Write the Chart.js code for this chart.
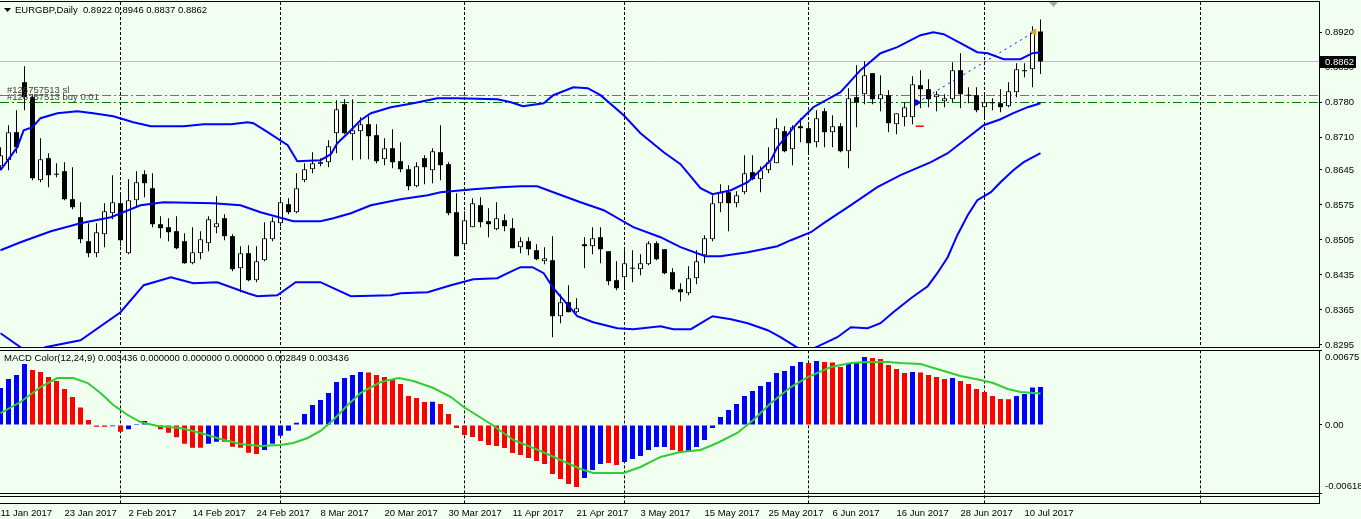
<!DOCTYPE html>
<html>
<head>
<meta charset="utf-8">
<script src="https://cdn.jsdelivr.net/npm/chart.js@4.4.1/dist/chart.umd.min.js"></script>
<style>
  html, body { margin: 0; padding: 0; background: #f0fff0; }
  #wrap { position: relative; width: 1361px; height: 519px; overflow: hidden; background: #f0fff0; }
  canvas { position: absolute; left: 0; }
  #price-chart { top: 0; }
  #macd-chart { top: 348px; }
</style>
</head>
<body>
<div id="wrap">
  <canvas id="price-chart" width="1361" height="352"></canvas>
  <canvas id="macd-chart" width="1361" height="171"></canvas>
</div>
<script>
// EURGBP daily, 11 Jan 2017 .. 12 Jul 2017 (one entry per bar)
const opens = [0.86526,0.86646,0.87206,0.88206,0.87906,0.86246,0.86686,0.86376,0.86426,0.85866,0.85506,0.85026,0.84786,0.85166,0.85586,0.85786,0.84786,0.85846,0.86366,0.86086,
  0.85366,0.85306,0.85226,0.85026,0.84586,0.84786,0.84986,0.85306,0.85486,0.85126,0.84486,0.84786,0.84246,0.84646,0.85066,0.85386,0.85766,0.85606,0.86246,0.86466,
  0.86606,0.86606,0.87186,0.87766,0.87166,0.87226,0.87366,0.87146,0.86666,0.86886,0.86626,0.86466,0.86126,0.86686,0.86446,0.86806,0.86566,0.85606,0.84966,0.85306,
  0.85746,0.85426,0.85266,0.85446,0.85286,0.84906,0.85026,0.84846,0.84626,0.84646,0.83526,0.83806,0.83606,0.84966,0.84926,0.85106,0.84826,0.84246,0.84306,0.84486,
  0.84466,0.84566,0.84986,0.84866,0.84406,0.84066,0.83986,0.84286,0.84746,0.85066,0.85786,0.86006,0.85786,0.86006,0.86406,0.86266,0.86446,0.86586,0.87226,0.86866,
  0.87326,0.87286,0.87006,0.87626,0.87206,0.87326,0.86826,0.87906,0.87966,0.88386,0.87866,0.87946,0.87366,0.87506,0.87506,0.88146,0.88066,0.87906,0.87826,0.87866,
  0.88446,0.87946,0.87946,0.87706,0.87806,0.87786,0.87726,0.88006,0.88446,0.88466,0.8922];
const highs = [0.86906,0.87346,0.87646,0.88526,0.87946,0.87086,0.86786,0.86586,0.86606,0.86506,0.85806,0.85386,0.85386,0.85786,0.86346,0.85986,0.86266,0.86426,0.86446,0.86386,
  0.85526,0.85486,0.85526,0.85186,0.85306,0.85226,0.85526,0.85926,0.85566,0.85166,0.84926,0.84946,0.84926,0.85406,0.85506,0.85886,0.85886,0.86386,0.86586,0.86806,
  0.86686,0.87046,0.87846,0.87866,0.87866,0.87506,0.87526,0.87366,0.87086,0.87266,0.87006,0.86546,0.86606,0.86746,0.86886,0.87346,0.86606,0.85986,0.85626,0.85886,
  0.85906,0.85686,0.85806,0.85566,0.85486,0.85106,0.85106,0.84966,0.84906,0.85126,0.83966,0.84146,0.83886,0.85106,0.85306,0.85306,0.84826,0.84626,0.84846,0.84846,
  0.84766,0.85026,0.85026,0.84866,0.84486,0.84186,0.84526,0.84846,0.85146,0.85946,0.86166,0.86146,0.86026,0.86746,0.86746,0.86526,0.86906,0.87486,0.87326,0.87346,
  0.87486,0.87346,0.87646,0.87686,0.87546,0.87386,0.88086,0.88546,0.88626,0.88386,0.88346,0.88046,0.87586,0.87806,0.88326,0.88446,0.88266,0.88026,0.87966,0.88606,
  0.88786,0.88106,0.88106,0.87966,0.87886,0.88066,0.88206,0.88586,0.88586,0.89326,0.8946];
const lows = [0.86446,0.86446,0.86786,0.87646,0.86246,0.86206,0.86106,0.86306,0.85846,0.85666,0.84986,0.84706,0.84706,0.84906,0.85466,0.84926,0.84766,0.85706,0.85906,0.85306,
  0.85086,0.85026,0.84866,0.84576,0.84566,0.84666,0.84826,0.85186,0.85046,0.84426,0.84006,0.84226,0.84206,0.84626,0.85026,0.85326,0.85566,0.85586,0.86206,0.86386,
  0.86526,0.86506,0.86786,0.87166,0.86646,0.86666,0.86666,0.86586,0.86546,0.86486,0.86406,0.86046,0.86106,0.86166,0.86186,0.86246,0.85546,0.84726,0.84866,0.85306,
  0.85306,0.85106,0.85246,0.85226,0.84886,0.84786,0.84746,0.84646,0.84566,0.83106,0.83386,0.83606,0.83586,0.84486,0.84766,0.84586,0.84146,0.84046,0.84106,0.84206,
  0.84346,0.84546,0.84646,0.84366,0.84046,0.83826,0.83946,0.84166,0.84586,0.85026,0.85606,0.85226,0.85706,0.85966,0.86246,0.86006,0.86386,0.86586,0.86806,0.86546,
  0.87006,0.86786,0.86906,0.86906,0.86906,0.86806,0.86486,0.87306,0.87766,0.87766,0.87626,0.87206,0.87166,0.87326,0.87366,0.87686,0.87706,0.87626,0.87706,0.87806,
  0.87686,0.87786,0.87606,0.87506,0.87646,0.87606,0.87706,0.87906,0.88306,0.88106,0.8837];
const closes = [0.86746,0.87206,0.86906,0.87906,0.86286,0.86666,0.86346,0.86356,0.85866,0.85706,0.85066,0.84786,0.85206,0.85626,0.85806,0.85046,0.85846,0.86206,0.86186,0.85366,
  0.85286,0.85206,0.84886,0.84586,0.84806,0.85066,0.85466,0.85386,0.85126,0.84466,0.84786,0.84246,0.84626,0.85086,0.85426,0.85806,0.85606,0.86086,0.86466,0.86586,
  0.86576,0.86926,0.87666,0.87186,0.87246,0.87366,0.87126,0.86626,0.86886,0.86606,0.86466,0.86126,0.86526,0.86506,0.86826,0.86546,0.85586,0.84726,0.85446,0.85786,
  0.85406,0.85366,0.85486,0.85326,0.84886,0.85026,0.84866,0.84666,0.84686,0.83526,0.83806,0.83606,0.83686,0.84926,0.85086,0.84866,0.84226,0.84086,0.84586,0.84476,
  0.84586,0.84986,0.84666,0.84386,0.84066,0.84006,0.84286,0.84626,0.85086,0.85786,0.86006,0.85786,0.85946,0.86386,0.86266,0.86446,0.86606,0.87286,0.86826,0.87306,
  0.87286,0.86986,0.87486,0.87206,0.87326,0.86826,0.87886,0.87806,0.88346,0.87866,0.87966,0.87386,0.87586,0.87706,0.88166,0.88066,0.87866,0.87966,0.87886,0.88446,
  0.87966,0.87936,0.87646,0.87806,0.87786,0.87706,0.88026,0.88466,0.88426,0.89206,0.8862];

// Bollinger bands, read as [bar, price]
const upperBand = [[0,0.86446],[2.1,0.86906],[2.9,0.87246],[4,0.87306],[5,0.87486],[7.1,0.87586],[9.6,0.87626],[11.6,0.87586],[14.1,0.87526],[16.6,0.87406],
  [18.8,0.87326],[22.9,0.87326],[25.4,0.87366],[28.8,0.87366],[30.9,0.87406],[31.6,0.87386],[33.4,0.87206],[35.9,0.86946],[37.1,0.86626],[40,0.86646],
  [41.3,0.86766],[42.1,0.86986],[43.8,0.87246],[45,0.87446],[46.3,0.87586],[48.8,0.87706],[51.6,0.87786],[54.6,0.87886],[57.1,0.87886],[62.1,0.87866],
  [63.8,0.87806],[65.3,0.87726],[67.9,0.87786],[69.1,0.87946],[71.6,0.88106],[73.4,0.88086],[75,0.87946],[77.9,0.87546],[80,0.87186],[82.9,0.86806],
  [85,0.86566],[87.5,0.86086],[89,0.85966],[91.3,0.86046],[93.4,0.86206],[96.3,0.86646],[97.1,0.86906],[99.6,0.87386],[101.6,0.87706],[105,0.88006],
  [107.5,0.88446],[110,0.88786],[112.1,0.88906],[115,0.89146],[116.6,0.89206],[117.9,0.89166],[120,0.88986],[122.1,0.88806],[123.4,0.88786],[125.4,0.88666],
  [127.5,0.88666],[129,0.88786],[130,0.88806]];
const middleBand = [[0,0.84846],[2.5,0.85006],[6.3,0.85226],[10,0.85386],[13.8,0.85506],[17.5,0.85746],[20.4,0.85806],[26.6,0.85786],[30,0.85746],[32.5,0.85606],
  [36.6,0.85426],[40,0.85426],[41.6,0.85486],[43.8,0.85586],[46.3,0.85746],[50,0.85866],[53.4,0.85946],[55,0.86006],[59.1,0.86066],[62.5,0.86106],
  [65,0.86126],[67.1,0.86126],[69.1,0.86006],[72.5,0.85806],[75.4,0.85646],[79.1,0.85306],[82.5,0.85106],[85,0.84906],[88.1,0.84726],[90,0.84726],
  [93.4,0.84806],[97.1,0.84926],[98.8,0.85046],[101.3,0.85206],[102.9,0.85386],[106.3,0.85746],[109.6,0.86106],[112.5,0.86346],[116.3,0.86606],[118.4,0.86786],
  [122.9,0.87346],[125,0.87466],[126.6,0.87586],[128.4,0.87706],[130,0.87786]];
const lowerBand = [[0,0.83186],[2.5,0.82906],[3,0.82806],[4.75,0.82806],[5.6,0.82906],[10,0.83046],[15,0.83606],[17.9,0.84146],[21.3,0.84306],[24.1,0.84186],
  [27.1,0.84206],[30.9,0.83986],[32.1,0.83926],[34.6,0.83946],[36.9,0.84206],[40,0.84206],[41.6,0.84086],[43.8,0.83926],[48.8,0.83946],[50,0.83986],
  [53.4,0.84006],[56.3,0.84146],[59.1,0.84266],[62.1,0.84286],[63.4,0.84386],[65,0.84506],[66.5,0.84506],[67.9,0.84386],[69.1,0.84086],[70.4,0.83846],
  [72.1,0.83526],[74.1,0.83406],[77.1,0.83286],[79.1,0.83266],[82.5,0.83326],[84.1,0.83266],[86.3,0.83266],[89,0.83526],[91.3,0.83466],[93.4,0.83386],
  [95.9,0.83246],[97.5,0.83106],[99.1,0.82946],[100.6,0.82806],[102.5,0.82946],[104.6,0.83106],[106.3,0.83306],[108.4,0.83286],[110,0.83386],[111.6,0.83606],
  [113.8,0.83886],[115.9,0.84126],[117.1,0.84386],[118.4,0.84706],[119.6,0.85146],[120.9,0.85546],[122.1,0.85846],[123.8,0.86006],[125,0.86206],[126.6,0.86446],
  [127.9,0.86606],[130,0.86786]];

// MACD Color(12,24,9) histogram per bar, u = rising (blue), d = falling (red)
const macdHist = [0.00335,0.00416,0.00452,0.00552,0.00497,0.00479,0.00434,0.00398,0.00326,0.00253,0.00159,0.00045,-0.00015,-0.00015,-0.00012,-0.00060,-0.00039,0.00009,0.00036,0.00002,
  -0.00039,-0.00069,-0.00111,-0.00169,-0.00205,-0.00205,-0.00169,-0.00151,-0.00151,-0.00196,-0.00205,-0.00250,-0.00262,-0.00226,-0.00169,-0.00097,-0.00052,0.00021,0.00099,0.00181,
  0.00226,0.00289,0.00389,0.00425,0.00452,0.00479,0.00476,0.00452,0.00434,0.00416,0.00371,0.00262,0.00244,0.00208,0.00210,0.00190,0.00099,-0.00027,-0.00090,-0.00109,
  -0.00145,-0.00181,-0.00190,-0.00208,-0.00253,-0.00271,-0.00298,-0.00326,-0.00353,-0.00443,-0.00488,-0.00534,-0.00561,-0.00479,-0.00407,-0.00353,-0.00344,-0.00362,-0.00335,-0.00307,
  -0.00280,-0.00226,-0.00199,-0.00199,-0.00226,-0.00244,-0.00235,-0.00199,-0.00136,-0.00027,0.00072,0.00136,0.00190,0.00262,0.00307,0.00353,0.00389,0.00470,0.00488,0.00534,
  0.00570,0.00561,0.00579,0.00570,0.00566,0.00524,0.00561,0.00565,0.00615,0.00606,0.00597,0.00543,0.00506,0.00470,0.00479,0.00476,0.00452,0.00434,0.00416,0.00425,
  0.00398,0.00371,0.00326,0.00298,0.00262,0.00235,0.00233,0.00262,0.00280,0.00340,0.003436];
const macdTrend = ("uuuu" + "dddddddddd" + "u" + "d" + "uuu" + "ddddddd" + "uu" + "ddddd" + "uuuuuuuuuuuuu" + "dddddddd" + "u" +
  "dddddddddddddddddd" + "uuu" + "dd" + "uuuuuu" + "dd" + "uuuuuuuuuuuuuuu" + "d" + "u" + "ddd" + "uuu" + "ddddd" + "u" +
  "dddd" + "u" + "ddddddd" + "uuuu").split("");
const signalLine = [[0,0.001085],[2.5,0.002079],[5,0.003435],[7.1,0.004249],[9.1,0.004249],[10.9,0.003797],[12.5,0.002893],[14.1,0.001808],[15.9,0.000904],[17.5,0.000271],
  [19.6,-0.00009],[22.5,-0.000271],[25,-0.000723],[27.5,-0.001266],[30,-0.001718],[32.5,-0.001898],[35,-0.001808],[36.6,-0.001627],[38.4,-0.001175],[40,-0.000542],
  [41.6,0.000452],[43.4,0.001808],[45,0.002893],[47.5,0.003887],[49.8,0.004249],[51.6,0.003978],[54.1,0.003345],[56.3,0.002531],[57.9,0.001627],[61.3,0.00009],
  [64.1,-0.001356],[67.5,-0.00235],[70,-0.003164],[72.5,-0.003978],[74.1,-0.004339],[77.9,-0.004339],[80,-0.003797],[82.5,-0.002893],[85,-0.002441],[87.5,-0.00226],
  [89.6,-0.001627],[92.1,-0.000723],[94.1,0.000452],[96.3,0.001989],[98.8,0.003435],[100.9,0.004339],[103.8,0.005243],[106.3,0.005605],[108.4,0.005695],[110.9,0.005695],
  [112.5,0.005605],[115,0.005514],[117.5,0.004972],[120,0.00443],[122.5,0.004068],[124.1,0.003797],[125.9,0.003254],[127.5,0.002983],[130,0.002849]];

// axis labels and levels
const dateLabels = ["11 Jan 2017","23 Jan 2017","2 Feb 2017","14 Feb 2017","24 Feb 2017","8 Mar 2017","20 Mar 2017","30 Mar 2017","11 Apr 2017",
  "21 Apr 2017","3 May 2017","15 May 2017","25 May 2017","6 Jun 2017","16 Jun 2017","28 Jun 2017","10 Jul 2017"];
const priceTicks = [0.8920, 0.8850, 0.8780, 0.8710, 0.8645, 0.8575, 0.8505, 0.8435, 0.8365, 0.8295];
const macdTicks = [0.00675, 0, -0.00618];
const monthStarts = [15, 35, 58, 78, 101, 123, 150];
const lastPrice = 0.8862;
const slLevel = 0.8794;
const buyLevel = 0.8780;
const tradeOpen = [114.6, 0.8780];
const tradeClose = [129.2, 0.8921];
const slMark = [114.9, 0.87326];

const FONT = '"Liberation Sans", Arial, sans-serif';
const xMin = -0.0625, xMax = xMin + 1319 / 8;
const priceMin = 0.8291, priceMax = 0.8981;
const macdMin = -0.00618, macdMax = 0.00675;

const bars = opens.map((_, i) => i);
const isBull = bars.map(i => closes[i] >= opens[i]);
const pts = arr => arr.map(([x, y]) => ({x, y}));
const hline = v => [{x: xMin, y: v}, {x: xMax, y: v}];

function dashedMonths(chart, top, bottom) {
    const ctx = chart.ctx, x = chart.scales.x;
    ctx.save();
    ctx.strokeStyle = "#000";
    ctx.lineWidth = 1;
    ctx.setLineDash([3, 2]);
    monthStarts.forEach(m => {
        const px = x.getPixelForValue(m);
        ctx.beginPath();
        ctx.moveTo(px, top);
        ctx.lineTo(px, bottom);
        ctx.stroke();
    });
    ctx.restore();
}

const priceDecor = {
    id: "priceDecor",
    beforeDatasetsDraw(chart) {
        dashedMonths(chart, chart.chartArea.top, chart.chartArea.bottom);
    },
    afterDraw(chart) {
        const ctx = chart.ctx, y = chart.scales.y;
        ctx.save();
        ctx.fillStyle = "#000";
        ctx.fillRect(0, 1, 1320, 1);
        ctx.fillRect(0, 347, 1320, 1);
        // header
        ctx.beginPath();
        ctx.moveTo(4, 8); ctx.lineTo(11, 8); ctx.lineTo(7.5, 12); ctx.closePath();
        ctx.fill();
        ctx.font = "9.5px " + FONT;
        ctx.textBaseline = "middle";
        ctx.fillText("EURGBP,Daily  " + [opens[130], highs[130], lows[130], closes[130]].map(v => v.toFixed(4)).join(" "), 15, 10.5);
        // order labels
        ctx.fillStyle = "#404040";
        ctx.fillText("#126757513 sl", 7, y.getPixelForValue(slLevel) - 5.5);
        ctx.fillText("#126757513 buy 0.01", 7, y.getPixelForValue(buyLevel) - 5);
        // last price box
        const py = Math.floor(y.getPixelForValue(lastPrice));
        ctx.fillStyle = "#000";
        ctx.fillRect(1320, py - 5, 36, 12);
        ctx.fillStyle = "#fff";
        ctx.fillText(lastPrice.toFixed(4), 1325, py + 1);
        // chart shift marker
        ctx.fillStyle = "#a8a8a8";
        ctx.beginPath();
        ctx.moveTo(1049, 2); ctx.lineTo(1058, 2); ctx.lineTo(1053.5, 7); ctx.closePath();
        ctx.fill();
        ctx.restore();
    }
};

new Chart(document.getElementById("price-chart"), {
    type: "bar",
    data: {
        datasets: [
            { type: "line", data: pts([tradeOpen]), showLine: false, pointStyle: "triangle", rotation: 90, pointRadius: 3.5,
              backgroundColor: "#0000ff", borderColor: "#0000ff", borderWidth: 1 },
            { type: "line", data: pts([slMark]), showLine: false, pointStyle: "line", pointRadius: 4, borderColor: "#ff0000", borderWidth: 1.5 },
            { type: "line", data: pts([tradeClose]), showLine: false, pointStyle: "triangle", rotation: -90, pointRadius: 3.5,
              backgroundColor: "#daa520", borderColor: "#daa520", borderWidth: 1 },
            { type: "line", data: pts([tradeOpen, tradeClose]), borderColor: "#0000ff", borderWidth: 1, borderDash: [2, 4], pointRadius: 0 },
            { type: "line", data: pts(upperBand), borderColor: "#0000ff", borderWidth: 2, pointRadius: 0, tension: 0 },
            { type: "line", data: pts(middleBand), borderColor: "#0000ff", borderWidth: 2, pointRadius: 0, tension: 0 },
            { type: "line", data: pts(lowerBand), borderColor: "#0000ff", borderWidth: 2, pointRadius: 0, tension: 0 },
            { type: "bar", data: bars.map(i => ({x: i, y: [opens[i], closes[i]]})),
              backgroundColor: isBull.map(b => b ? "#ffffff" : "#000000"), borderColor: "#000000",
              borderWidth: isBull.map(b => b ? 1 : 0), borderSkipped: false, barThickness: 5, minBarLength: 1,
              grouped: false, inflateAmount: 0 },
            { type: "bar", data: bars.map(i => ({x: i, y: [lows[i], highs[i]]})),
              backgroundColor: "#000000", borderWidth: 0, barThickness: 1, grouped: false, inflateAmount: 0 },
            { type: "line", data: hline(lastPrice), borderColor: "#c0c0c0", borderWidth: 1, pointRadius: 0 },
            { type: "line", data: hline(slLevel), borderColor: "#ff4500", borderWidth: 1, borderDash: [9, 3, 2, 3], pointRadius: 0 },
            { type: "line", data: hline(buyLevel), borderColor: "#008000", borderWidth: 1, borderDash: [9, 3, 2, 3], pointRadius: 0 }
        ]
    },
    options: {
        responsive: false,
        animation: false,
        devicePixelRatio: 1,
        layout: { autoPadding: false, padding: { top: 2, bottom: 5, left: 0, right: 0 } },
        plugins: { legend: { display: false }, tooltip: { enabled: false } },
        scales: {
            x: { type: "linear", min: xMin, max: xMax, offset: false, display: false },
            y: {
                position: "right", min: priceMin, max: priceMax,
                afterBuildTicks: s => { s.ticks = priceTicks.map(v => ({ value: v })); },
                afterFit: s => { s.width = 42; s.paddingTop = 0; s.paddingBottom = 0; },
                ticks: { autoSkip: false, padding: 3, color: "#000", font: { family: FONT, size: 9.5 },
                         callback: v => Number(v).toFixed(4) },
                grid: { drawOnChartArea: false, drawTicks: true, tickLength: 3, color: "#000" },
                border: { display: true, color: "#000" }
            }
        }
    },
    plugins: [priceDecor]
});

const macdDecor = {
    id: "macdDecor",
    beforeDatasetsDraw(chart) {
        dashedMonths(chart, chart.chartArea.top, 155);
    },
    afterDraw(chart) {
        const ctx = chart.ctx;
        ctx.save();
        ctx.fillStyle = "#000";
        ctx.fillRect(0, 2, 1320, 1);
        ctx.fillRect(0, 145, 1320, 1);
        ctx.fillRect(0, 148, 1320, 1);
        ctx.fillRect(0, 155, 1320, 1);
        ctx.fillRect(1319, 145, 1, 11);
        ctx.font = "9.5px " + FONT;
        ctx.textBaseline = "middle";
        const last = macdHist[macdHist.length - 1], sig = signalLine[signalLine.length - 1][1];
        ctx.fillText("MACD Color(12,24,9) " + [last, 0, 0, 0, sig, last].map(v => v.toFixed(6)).join(" "), 4, 10.5);
        ctx.restore();
    }
};

new Chart(document.getElementById("macd-chart"), {
    type: "bar",
    data: {
        datasets: [
            { type: "line", data: pts(signalLine), borderColor: "#32cd32", borderWidth: 2, pointRadius: 0, tension: 0 },
            { type: "bar", data: macdHist.map((v, i) => ({x: i, y: v})),
              backgroundColor: macdTrend.map(t => t === "u" ? "#0000ff" : "#ff0000"),
              borderWidth: 0, barThickness: 5, grouped: false, inflateAmount: 0 }
        ]
    },
    options: {
        responsive: false,
        animation: false,
        devicePixelRatio: 1,
        layout: { autoPadding: false, padding: { top: 2.4, bottom: 0, left: 0, right: 0 } },
        plugins: { legend: { display: false }, tooltip: { enabled: false } },
        scales: {
            x: {
                type: "linear", min: xMin, max: xMax, offset: false, position: "bottom",
                afterBuildTicks: s => { s.ticks = dateLabels.map((_, k) => ({ value: k * 8 })); },
                afterFit: s => { s.height = 25.7; s.paddingLeft = 0; s.paddingRight = 0; },
                ticks: { autoSkip: false, maxRotation: 0, minRotation: 0, align: "start", padding: 14, color: "#000",
                         font: { family: FONT, size: 9.5 }, callback: (v, k) => dateLabels[k] },
                grid: { display: false, drawTicks: false },
                border: { display: false }
            },
            y: {
                position: "right", min: macdMin, max: macdMax,
                afterBuildTicks: s => { s.ticks = macdTicks.map(v => ({ value: v })); },
                afterFit: s => { s.width = 42; s.paddingTop = 0; s.paddingBottom = 0; },
                ticks: { autoSkip: false, padding: 3, color: "#000", font: { family: FONT, size: 9.5, lineHeight: 1.45 },
                         callback: v => v === 0 ? "0.00" : (v > 0 ? ["", v.toFixed(5)] : [v.toFixed(5), ""]) },
                grid: { drawOnChartArea: false, drawTicks: true, tickLength: 3, color: "#000" },
                border: { display: true, color: "#000" }
            }
        }
    },
    plugins: [macdDecor]
});
</script>
</body>
</html>
